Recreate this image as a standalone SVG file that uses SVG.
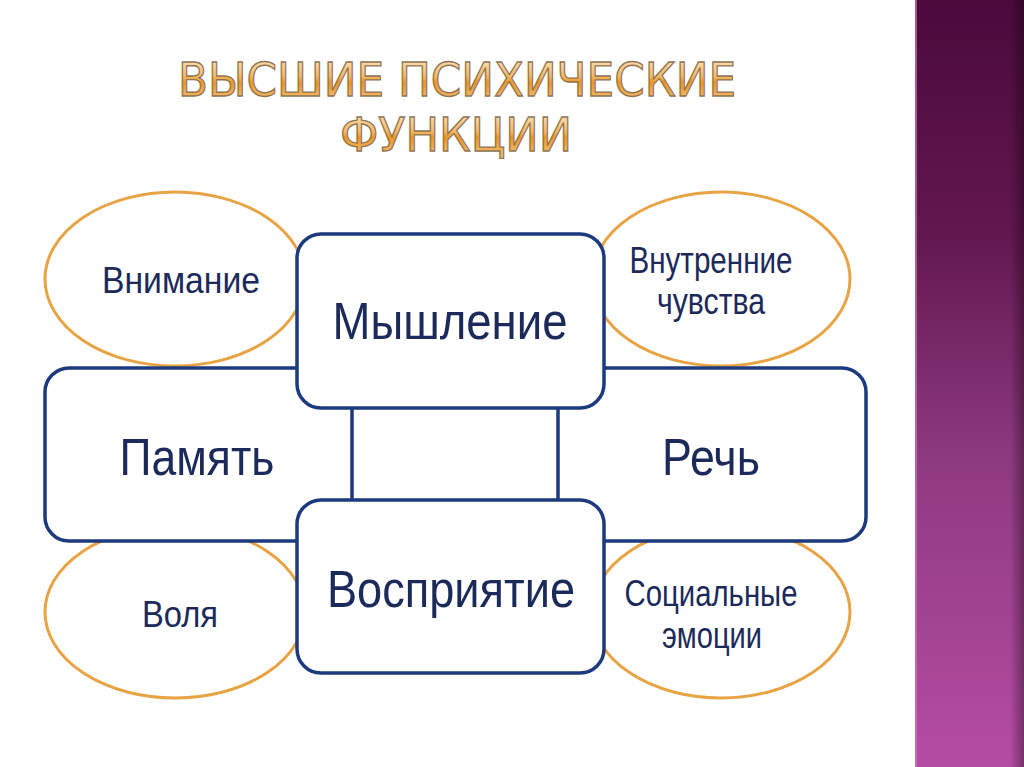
<svg xmlns="http://www.w3.org/2000/svg" width="1024" height="767" viewBox="0 0 1024 767">
<defs>
<linearGradient id="side" x1="0" y1="0" x2="0" y2="1">
<stop offset="0" stop-color="#4a0a3c"/>
<stop offset="0.3" stop-color="#62174f"/>
<stop offset="0.6" stop-color="#8e3a80"/>
<stop offset="1" stop-color="#b54ca4"/>
</linearGradient>
<linearGradient id="edge" x1="0" y1="0" x2="1" y2="0">
<stop offset="0" stop-color="#000" stop-opacity="0"/>
<stop offset="1" stop-color="#000" stop-opacity="0.35"/>
</linearGradient>
<linearGradient id="gold" x1="0" y1="0" x2="0" y2="1">
<stop offset="0" stop-color="#ffefd4"/>
<stop offset="0.45" stop-color="#f5b862"/>
<stop offset="0.55" stop-color="#ec9622"/>
<stop offset="1" stop-color="#f7cc8c"/>
</linearGradient>
<style>
.title{font-family:"DejaVu Sans",Verdana,sans-serif;font-size:47px;fill:url(#gold);stroke:#8f7456;stroke-width:1.3;text-anchor:middle}
.oval{fill:#ffffff;stroke:#e8a444;stroke-width:3}
.box{fill:#ffffff;stroke:#1c3a7e;stroke-width:3.5}
.big{font-family:"Liberation Sans",Arial,sans-serif;font-size:52px;fill:#1b2a5a;text-anchor:middle}
.small{font-family:"Liberation Sans",Arial,sans-serif;font-size:36px;fill:#1b2a5a;text-anchor:middle}
</style>
</defs>
<rect width="1024" height="767" fill="#ffffff"/>
<g id="sidebar">
<rect x="915" y="0" width="109" height="767" fill="url(#side)"/>
<rect x="915" y="0" width="2" height="767" fill="#c87ab8" opacity="0.7"/>
<rect x="1010" y="0" width="14" height="767" fill="url(#edge)"/>
</g>
<g id="title">
<text class="title" x="457" y="96" textLength="558" lengthAdjust="spacingAndGlyphs">ВЫСШИЕ ПСИХИЧЕСКИЕ</text>
<text class="title" x="456" y="151" textLength="232" lengthAdjust="spacingAndGlyphs">ФУНКЦИИ</text>
</g>
<g id="ovals">
<g id="vnimanie"><ellipse class="oval" cx="175" cy="279" rx="130" ry="87"/><text class="small" x="181" y="293" textLength="158" lengthAdjust="spacingAndGlyphs">Внимание</text></g>
<g id="vnutrennie"><ellipse class="oval" cx="721" cy="279" rx="129" ry="87"/><text class="small" x="711" y="273" textLength="163" lengthAdjust="spacingAndGlyphs">Внутренние</text><text class="small" x="711" y="314" textLength="108" lengthAdjust="spacingAndGlyphs">чувства</text></g>
<g id="volya"><ellipse class="oval" cx="175" cy="612" rx="130" ry="86"/><text class="small" x="180" y="627" textLength="76" lengthAdjust="spacingAndGlyphs">Воля</text></g>
<g id="emocii"><ellipse class="oval" cx="721" cy="612" rx="129" ry="86"/><text class="small" x="711" y="606" textLength="173" lengthAdjust="spacingAndGlyphs">Социальные</text><text class="small" x="712" y="648" textLength="100" lengthAdjust="spacingAndGlyphs">эмоции</text></g>
</g>
<g id="connectors"></g>
<g id="pamyat"><rect class="box" x="45" y="368" width="307" height="173" rx="24"/><text class="big" x="197" y="475" textLength="155" lengthAdjust="spacingAndGlyphs">Память</text></g>
<g id="rech"><rect class="box" x="558" y="368" width="308" height="173" rx="24"/><text class="big" x="711" y="475" textLength="98" lengthAdjust="spacingAndGlyphs">Речь</text></g>
<g id="myshlenie"><rect class="box" x="297" y="234" width="307" height="174" rx="24"/><text class="big" x="450" y="339" textLength="235" lengthAdjust="spacingAndGlyphs">Мышление</text></g>
<g id="vospriyatie"><rect class="box" x="297" y="500" width="307" height="173" rx="24"/><text class="big" x="451" y="607" textLength="248" lengthAdjust="spacingAndGlyphs">Восприятие</text></g>
</svg>
